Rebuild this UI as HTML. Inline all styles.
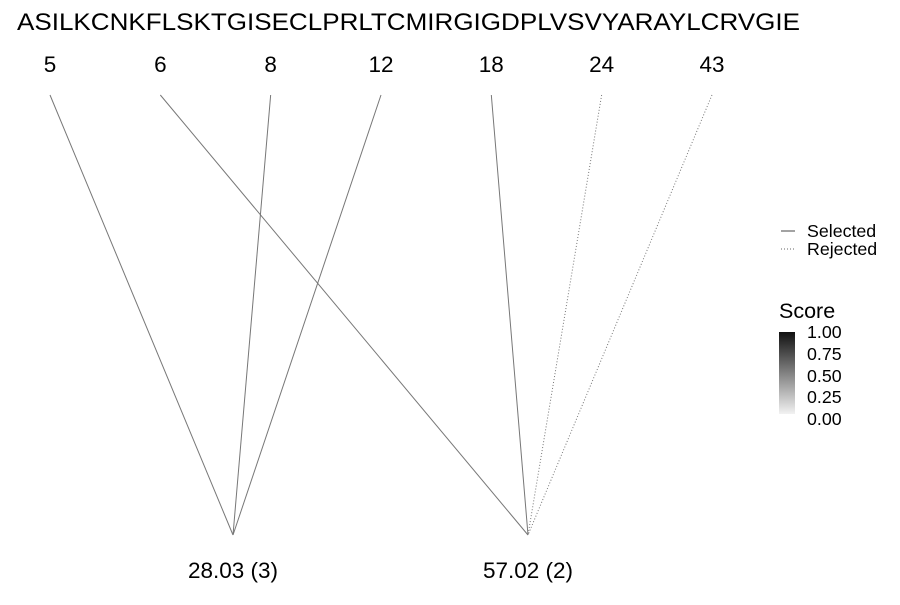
<!DOCTYPE html>
<html><head><meta charset="utf-8"><style>
body{margin:0;background:#fff}
svg{font-family:"Liberation Sans",sans-serif}
</style></head><body>
<svg width="900" height="600">
<defs><linearGradient id="g" x1="0" y1="1" x2="0" y2="0"><stop offset="0" stop-color="#f2f2f2"/><stop offset="1" stop-color="#111"/></linearGradient></defs>
<text x="17" y="30" font-size="24.5" textLength="783" lengthAdjust="spacingAndGlyphs">ASILKCNKFLSKTGISECLPRLTCMIRGIGDPLVSVYARAYLCRVGIE</text>
<g id="edges"></g><g id="top"></g><g id="bot"></g>
<g>
<line x1="781" y1="231" x2="795" y2="231" stroke="#666" stroke-width="1.2"/>
<text x="807" y="237" font-size="17.8">Selected</text>
<line x1="781" y1="249" x2="795" y2="249" stroke="#666" stroke-dasharray="1,2"/>
<text x="807" y="255" font-size="17.8">Rejected</text>
</g>
<g>
<text x="779" y="318" font-size="21.5">Score</text>
<rect x="779" y="332" width="16" height="82" fill="url(#g)"/>
<g font-size="17.8">
<text x="807" y="338">1.00</text><text x="807" y="360">0.75</text><text x="807" y="382">0.50</text><text x="807" y="403">0.25</text><text x="807" y="425">0.00</text></g>
</g>
</svg>
<script>
const topLabels=["5","6","8","12","18","24","43"];
const botLabels=["28.03 (3)","57.02 (2)"];
const edgeFrom=[0,2,3,1,4,5,6];
const edgeTo=[0,0,0,1,1,1,1];
const edgeSelected=[1,1,1,1,1,0,0];
const ns="http://www.w3.org/2000/svg";
const tx=i=>50+i*110.33, bx=j=>233+j*295;
function mk(t,a,p){const e=document.createElementNS(ns,t);for(const k in a)e.setAttribute(k,a[k]);p.appendChild(e);return e;}
const E=document.getElementById('edges'),T=document.getElementById('top'),B=document.getElementById('bot');
edgeFrom.forEach((f,i)=>{const l=mk('line',{x1:tx(f),y1:95,x2:bx(edgeTo[i]),y2:535,stroke:'#777','stroke-width':1,'stroke-dasharray':edgeSelected[i]?'none':'1,2'},E);

});
topLabels.forEach((s,i)=>{const t=mk('text',{x:tx(i),y:72,'font-size':22.5,'text-anchor':'middle'},T);t.textContent=s;

});
botLabels.forEach((s,j)=>{const t=mk('text',{x:bx(j),y:578,'font-size':22.5,'text-anchor':'middle'},B);t.textContent=s;

});
</script>
</body></html>
